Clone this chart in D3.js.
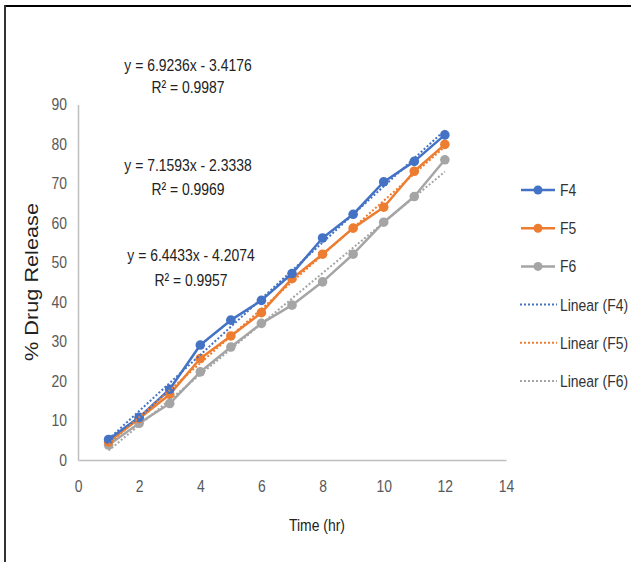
<!DOCTYPE html>
<html><head><meta charset="utf-8">
<script src="https://cdn.jsdelivr.net/npm/d3@7"></script>
<style>
html,body{margin:0;padding:0;background:#fff;}
svg{display:block;}
</style></head>
<body>
<script>
const times = [1,2,3,4,5,6,7,8,9,10,11,12];
const f4 = [5.2,10.8,17.9,29.1,35.4,40.4,47.2,56.2,62.2,70.4,75.6,82.3];
const f5 = [4.6,10.5,16.6,25.7,31.4,37.3,45.9,52.1,58.7,64.0,73.1,79.9];
const f6 = [3.8,9.3,14.3,22.3,28.6,34.6,39.2,45.1,52.1,60.2,66.7,76.0];
const seriesNames = ["F4","F5","F6"];
const xTicks = [0,2,4,6,8,10,12,14];
const yTicks = [0,10,20,30,40,50,60,70,80,90];
const equations = [
  ["y = 6.9236x - 3.4176","R² = 0.9987"],
  ["y = 7.1593x - 2.3338","R² = 0.9969"],
  ["y = 6.4433x - 4.2074","R² = 0.9957"]
];
const legendLabels = ["F4","F5","F6","Linear (F4)","Linear (F5)","Linear (F6)"];
const colors = ["#4472C4","#ED7D31","#A5A5A5"];

const W=631,H=562;
const font = "'Liberation Sans',Arial,sans-serif";
const SX = 0.82; // condensed look
const svg = d3.select("body").append("svg").attr("width",W).attr("height",H);
svg.append("rect").attr("width",W).attr("height",H).attr("fill","#fff");
// frame
svg.append("line").attr("x1",4).attr("x2",W).attr("y1",6).attr("y2",6).attr("stroke","#000").attr("stroke-width",2.2);
svg.append("line").attr("x1",5).attr("x2",5).attr("y1",5).attr("y2",H).attr("stroke","#333").attr("stroke-width",2);

function ntext(parent,x0,y0,anchor,size,fill,txt){
  return parent.append("text")
    .attr("transform",`translate(${x0},${y0}) scale(${SX},1)`)
    .attr("text-anchor",anchor).attr("dominant-baseline","central")
    .attr("font-family",font).attr("font-size",size).attr("fill",fill).text(txt);
}

const x = d3.scaleLinear().domain([0,14]).range([78,506]);
const y = d3.scaleLinear().domain([0,90]).range([460,104.5]);

// axes
const xAxis = svg.append("g").attr("transform","translate(0,460)")
  .call(d3.axisBottom(x).tickValues(xTicks).tickSize(0).tickPadding(20));
const yAxis = svg.append("g").attr("transform","translate(78,0)")
  .call(d3.axisLeft(y).tickValues(yTicks).tickSize(0).tickPadding(11));
[xAxis,yAxis].forEach(g=>{
  g.select(".domain").attr("stroke","#BFBFBF").attr("stroke-width",1.5);
  g.selectAll("text").attr("font-family",font).attr("font-size",17).attr("fill","#595959")
    .each(function(){
      const t=d3.select(this);
      const xv=+t.attr("x")||0;
      t.attr("x",xv/SX).attr("transform",`scale(${SX},1)`);
    });
});

const data = [f4,f5,f6];
function fit(vals){
  const n=times.length, mx=d3.mean(times), my=d3.mean(vals);
  let sxy=0,sxx=0;
  times.forEach((t,i)=>{sxy+=(t-mx)*(vals[i]-my);sxx+=(t-mx)*(t-mx);});
  const b=sxy/sxx, a=my-b*mx;
  return [times[0],times[n-1]].map(t=>({t,v:a+b*t}));
}
const line = d3.line().x(d=>x(d.t)).y(d=>y(d.v));

[2,1,0].forEach(k=>{
  const pts = times.map((t,i)=>({t,v:data[k][i]}));
  svg.append("path").datum(pts).attr("d",line).attr("fill","none")
    .attr("stroke",colors[k]).attr("stroke-width",2.5).attr("stroke-linejoin","round");
  svg.selectAll(null).data(pts).enter().append("circle")
    .attr("cx",d=>x(d.t)).attr("cy",d=>y(d.v)).attr("r",4.8).attr("fill",colors[k]);
});
[2,1,0].forEach(k=>{
  svg.append("path").datum(fit(data[k])).attr("d",line).attr("fill","none")
    .attr("stroke",colors[k]).attr("stroke-width",2).attr("stroke-dasharray","2,2");
});

// equations
const eqPos = [[188,65,87],[188,165,189],[191,255,280]];
equations.forEach((e,i)=>{
  [0,1].forEach(j=>{
    ntext(svg,eqPos[i][0],eqPos[i][j+1],"middle",17,"#222",e[j]);
  });
});

// axis titles
svg.append("text").attr("transform","translate(32,282) rotate(-90)")
  .attr("text-anchor","middle").attr("dominant-baseline","central")
  .attr("font-family",font).attr("font-size",18).attr("fill","#222")
  .attr("textLength",158).attr("lengthAdjust","spacingAndGlyphs")
  .text("% Drug Release");
ntext(svg,317,525,"middle",17,"#222","Time (hr)");

// legend
const lg = svg.append("g");
legendLabels.forEach((lab,i)=>{
  const yy = 190 + i*38.2;
  const c = colors[i%3];
  if(i<3){
    lg.append("line").attr("x1",521).attr("x2",555).attr("y1",yy).attr("y2",yy)
      .attr("stroke",c).attr("stroke-width",2.5);
    lg.append("circle").attr("cx",538).attr("cy",yy).attr("r",4.5).attr("fill",c);
  } else {
    lg.append("line").attr("x1",520).attr("x2",557).attr("y1",yy).attr("y2",yy)
      .attr("stroke",c).attr("stroke-width",2).attr("stroke-dasharray","2,2");
  }
  ntext(lg,560,yy,"start",17,"#333",lab);
});
</script>
</body></html>
